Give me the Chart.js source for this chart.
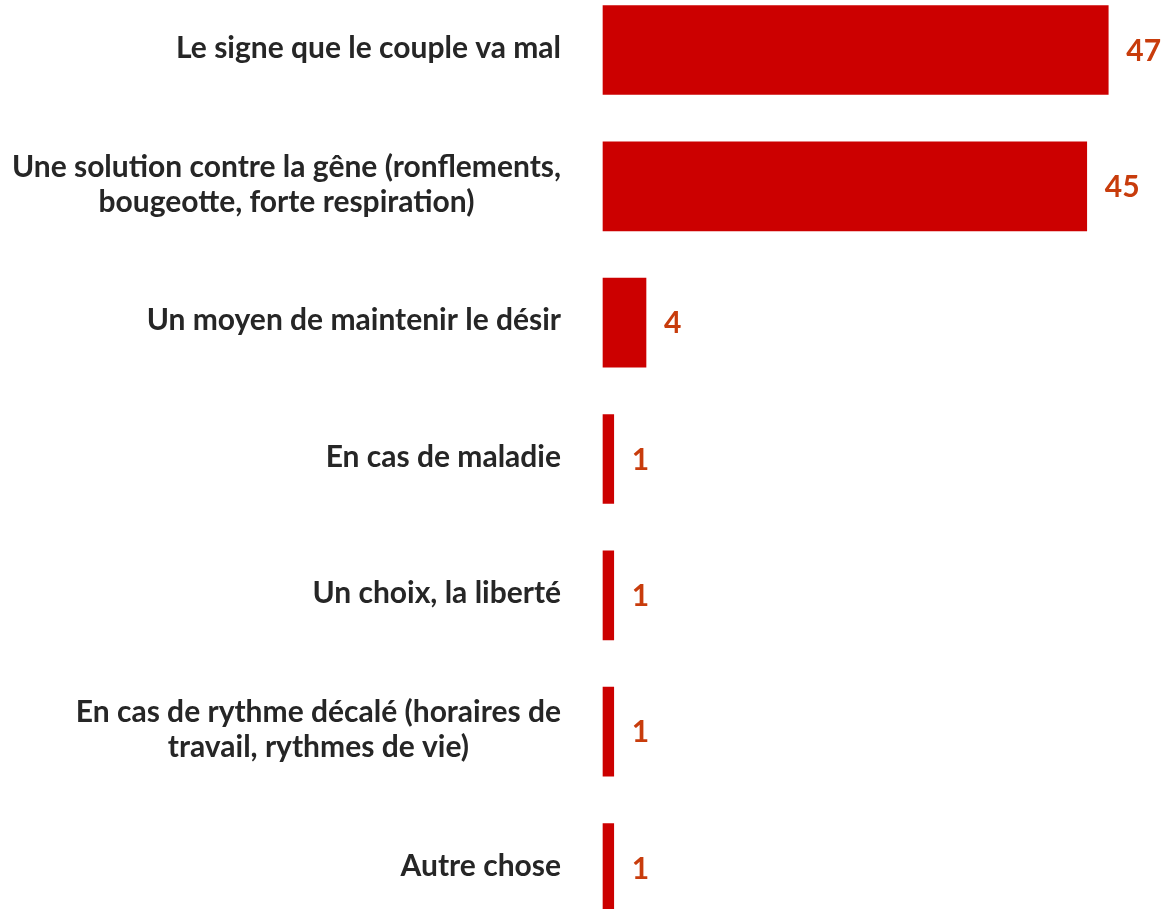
<!DOCTYPE html>
<html>
<head>
<meta charset="utf-8">
<script src="https://cdn.jsdelivr.net/npm/chart.js@4/dist/chart.umd.min.js"></script>
<style>
  html, body { margin: 0; padding: 0; background: #ffffff; }
  #wrap { width: 1165px; height: 909px; position: relative; }
</style>
</head>
<body>
<div id="wrap"><canvas id="c"></canvas></div>
<script>
const categories = [
  ["Le signe que le couple va mal"],
  ["Une solution contre la gêne (ronflements,", "bougeotte, forte respiration)"],
  ["Un moyen de maintenir le désir"],
  ["En cas de maladie"],
  ["Un choix, la liberté"],
  ["En cas de rythme décalé (horaires de", "travail, rythmes de vie)"],
  ["Autre chose"]
];
const values = [47, 45, 4, 1, 1, 1, 1];
const valueLabels = ["47", "45", "4", "1", "1", "1", "1"];

const valueLabelPlugin = {
  id: 'valueLabels',
  afterDatasetsDraw(chart) {
    const ctx = chart.ctx;
    const meta = chart.getDatasetMeta(0);
    ctx.save();
    ctx.font = 'bold 30px Lato';
    ctx.fillStyle = '#C83C0C';
    ctx.textAlign = 'left';
    ctx.textBaseline = 'middle';
    meta.data.forEach((bar, i) => {
      ctx.fillText(valueLabels[i], bar.x + 18, bar.y + 1);
    });
    ctx.restore();
  }
};

// Category labels: block right-aligned next to the axis, lines centred within the block
const categoryLabelPlugin = {
  id: 'categoryLabels',
  afterDraw(chart) {
    const ctx = chart.ctx;
    const yScale = chart.scales.y;
    const right = chart.chartArea.left - 42;
    const lineH = 35;
    ctx.save();
    ctx.font = 'bold 30px Lato';
    ctx.fillStyle = '#262626';
    ctx.textAlign = 'center';
    ctx.textBaseline = 'middle';
    chart.data.labels.forEach((lines, i) => {
      const y = yScale.getPixelForTick(i);
      const blockW = Math.max(...lines.map(l => ctx.measureText(l).width));
      const cx = right - blockW / 2;
      lines.forEach((line, j) => {
        ctx.fillText(line, cx, y - 2 + (j - (lines.length - 1) / 2) * lineH);
      });
    });
    ctx.restore();
  }
};

new Chart(document.getElementById('c'), {
  type: 'bar',
  data: {
    labels: categories,
    datasets: [{
      data: values,
      backgroundColor: '#CC0000',
      borderWidth: 0,
      barThickness: 89,
      clip: false
    }]
  },
  options: {
    indexAxis: 'y',
    responsive: true,
    maintainAspectRatio: false,
    animation: false,
    layout: { padding: { top: 50, bottom: 41, left: 0, right: 3 } },
    plugins: { legend: { display: false }, tooltip: { enabled: false } },
    scales: {
      x: {
        display: false,
        min: 0,
        max: 52
      },
      y: {
        offset: false,
        grid: { display: false, drawTicks: false },
        border: { display: false },
        afterFit(scale) { scale.width = 603; },
        ticks: { display: false, autoSkip: false }
      }
    }
  },
  plugins: [valueLabelPlugin, categoryLabelPlugin]
});
</script>
</body>
</html>
